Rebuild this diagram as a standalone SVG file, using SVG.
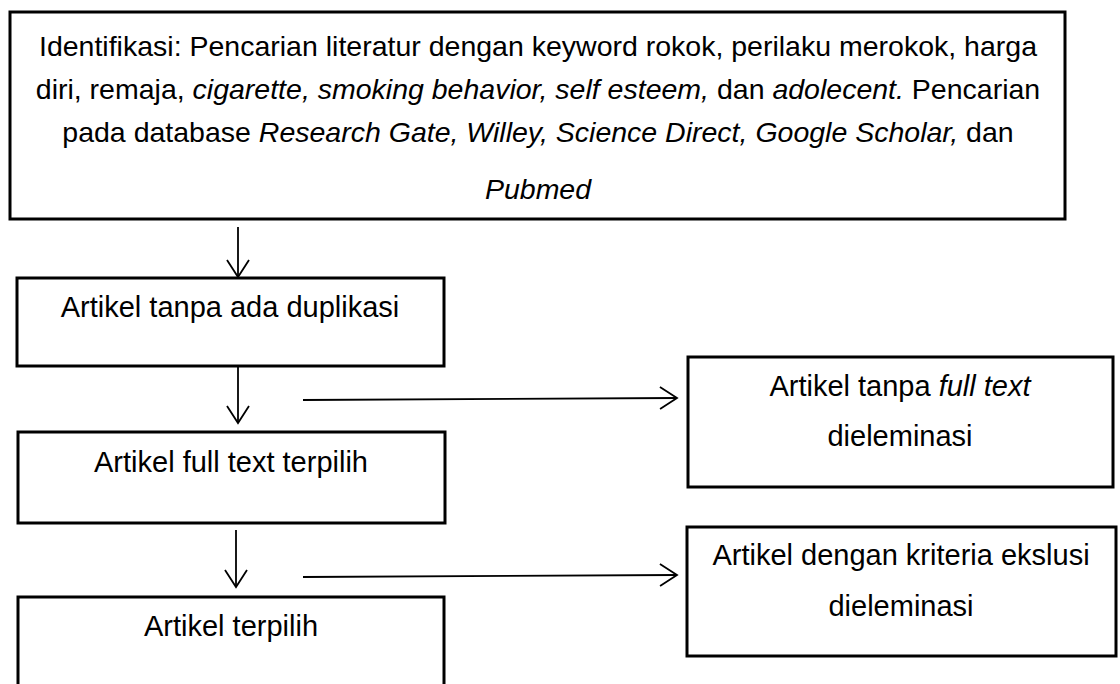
<svg xmlns="http://www.w3.org/2000/svg" width="1120" height="684" viewBox="0 0 1120 684">
  <style>
    .box { fill: #ffffff; stroke: #000000; stroke-width: 3; }
    .lbl { font-family: "Liberation Sans", Arial, sans-serif; font-size: 29px; fill: #000000; text-anchor: middle; }
    .top { font-size: 28.5px; }
    .it { font-style: italic; }
    .conn { fill: none; stroke: #000000; stroke-width: 1.8; }
  </style>
  <defs>
    <marker id="open" markerUnits="userSpaceOnUse" markerWidth="22" markerHeight="26" viewBox="0 0 22 26" refX="18" refY="12" orient="auto">
      <path d="M1,1 L18,12 L1,23" fill="none" stroke="#000000" stroke-width="1.8"/>
    </marker>
  </defs>
  <rect width="1120" height="684" fill="#ffffff"/>

  <g id="n-identifikasi">
    <rect class="box" x="10" y="12" width="1055" height="207"/>
    <text class="lbl top" x="538" y="56">Identifikasi: Pencarian literatur dengan keyword rokok, perilaku merokok, harga</text>
    <text class="lbl top" x="538" y="99">diri, remaja, <tspan class="it">cigarette, smoking behavior, self esteem,</tspan> dan <tspan class="it">adolecent.</tspan> Pencarian</text>
    <text class="lbl top" x="538" y="142">pada database <tspan class="it">Research Gate, Willey, Science Direct, Google Scholar,</tspan> dan</text>
    <text class="lbl top it" x="538" y="199">Pubmed</text>
  </g>

  <g id="n-duplikasi">
    <rect class="box" x="17" y="278" width="427" height="88"/>
    <text class="lbl" x="230" y="317">Artikel tanpa ada duplikasi</text>
  </g>

  <g id="n-fulltext">
    <rect class="box" x="18" y="432" width="427" height="91"/>
    <text class="lbl" x="231" y="472">Artikel full text terpilih</text>
  </g>

  <g id="n-terpilih">
    <rect class="box" x="18" y="597" width="426" height="110"/>
    <text class="lbl" x="231" y="636">Artikel terpilih</text>
  </g>

  <g id="n-tanpa-fulltext">
    <rect class="box" x="688" y="357" width="425" height="130"/>
    <text class="lbl" x="900" y="396">Artikel tanpa <tspan class="it">full text</tspan></text>
    <text class="lbl" x="900" y="446">dieleminasi</text>
  </g>

  <g id="n-eksklusi">
    <rect class="box" x="687" y="527" width="429" height="129"/>
    <text class="lbl" x="901" y="565">Artikel dengan kriteria ekslusi</text>
    <text class="lbl" x="901" y="616">dieleminasi</text>
  </g>

  <g id="connectors">
    <line class="conn" x1="238" y1="227" x2="238" y2="277" marker-end="url(#open)"/>
    <line class="conn" x1="238" y1="367" x2="238" y2="423" marker-end="url(#open)"/>
    <line class="conn" x1="236" y1="530" x2="236" y2="587" marker-end="url(#open)"/>
    <line class="conn" x1="303" y1="400" x2="677" y2="398" marker-end="url(#open)"/>
    <line class="conn" x1="303" y1="577" x2="677" y2="575" marker-end="url(#open)"/>
  </g>
</svg>
